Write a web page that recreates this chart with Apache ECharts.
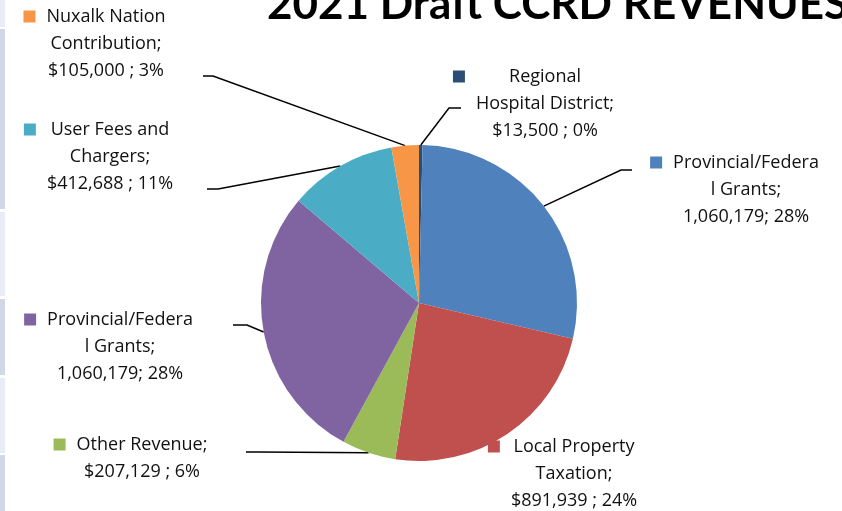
<!DOCTYPE html>
<html>
<head>
<meta charset="utf-8">
<script src="https://cdn.jsdelivr.net/npm/echarts@6/dist/echarts.min.js"></script>
<style>
  html, body { margin: 0; padding: 0; background: #ffffff; }
  #chart { width: 842px; height: 511px; }
</style>
</head>
<body>
<div id="chart"></div>
<script>
// Revenue sources, in clockwise order from 12 o'clock.
const categories = [
  'Regional\nHospital District',
  'Provincial/Federa\nl Grants',
  'Local Property\nTaxation',
  'Other Revenue',
  'Provincial/Federa\nl Grants',
  'User Fees and\nChargers',
  'Nuxalk Nation\nContribution'
];
const values = [13500, 1060179, 891939, 207129, 1060179, 412688, 105000];
const valuePrefix = ['$', '', '$', '$', '', '$', '$'];
const valueSeparator = [' ; ', '; ', ' ; ', ' ; ', '; ', ' ; ', ' ; '];
const colors = ['#2c4d75', '#4f81bd', '#c0504d', '#9bbb59', '#8064a2', '#4bacc6', '#f79646'];
const titleText = '2021 Draft CCRD REVENUES';

// Where each data label sits (text centre x, top y) and the bend/end of its leader line.
const labelPlacement = [
  { x: 545, y: 63,  line: [[449, 108], [461, 108]] },
  { x: 746, y: 149, line: [[621, 170], [632, 170]] },
  { x: 574, y: 433, line: null },
  { x: 142, y: 431, line: [[258, 452], [246, 452]] },
  { x: 120, y: 306, line: [[247, 325], [233, 325]] },
  { x: 110, y: 116, line: [[218, 189], [207, 189]] },
  { x: 106, y: 3,   line: [[213, 76], [203, 76]] }
];

const LABEL_FONT = 'Open Sans';
const LABEL_SIZE = 18;
const total = values.reduce((a, b) => a + b, 0);

const measureCtx = document.createElement('canvas').getContext('2d');
measureCtx.font = LABEL_SIZE + 'px "' + LABEL_FONT + '"';
function textWidth(s) { return measureCtx.measureText(s).width; }

function labelLines(i, percent) {
  const lines = categories[i].split('\n');
  lines[lines.length - 1] += ';';
  lines.push(valuePrefix[i] + values[i].toLocaleString('en-US') + valueSeparator[i] + percent + '%');
  return lines;
}

const data = values.map((v, i) => {
  const lines = labelLines(i, Math.round(v / total * 100));
  const widest = Math.max.apply(null, lines.map(textWidth));
  return {
    name: categories[i],
    value: v,
    itemStyle: { color: colors[i] },
    label: {
      width: widest + 46,
      rich: {
        sq: { width: 12, height: 12, align: 'left', backgroundColor: colors[i] },
        sqR: { width: 12, height: 12, align: 'right' },
        t: { align: 'center', fontFamily: LABEL_FONT, fontSize: LABEL_SIZE, lineHeight: 27, color: '#111' }
      }
    },
    labelLine: { show: !!labelPlacement[i].line }
  };
});

const chart = echarts.init(document.getElementById('chart'), null, { renderer: 'canvas' });

// Thin banded strip along the left edge of the slide.
const stripBands = [[0, 27, '#e8edf5'], [29, 209, '#d0d8e8'], [212, 296, '#e8edf5'],
                    [299, 375, '#d0d8e8'], [378, 453, '#e8edf5'], [455, 511, '#d0d8e8']];

chart.setOption({
  backgroundColor: '#ffffff',
  animation: false,
  title: {
    text: titleText,
    left: 262,
    top: -22,
    textStyle: { fontFamily: 'Lato', fontWeight: 'bold', fontSize: 44, color: '#000' }
  },
  graphic: stripBands.map(b => ({
    type: 'rect',
    shape: { x: 0, y: b[0], width: 5, height: b[1] - b[0] },
    style: { fill: b[2] },
    silent: true
  })),
  series: [{
    type: 'pie',
    center: [419, 303],
    radius: 158,
    startAngle: 90,
    clockwise: true,
    avoidLabelOverlap: false,
    percentPrecision: 0,
    itemStyle: { borderWidth: 0 },
    label: {
      show: true,
      position: 'outside',
      overflow: 'none',
      fontFamily: LABEL_FONT,
      fontSize: LABEL_SIZE,
      lineHeight: 27,
      color: '#111',
      formatter: p => {
        const lines = labelLines(p.dataIndex, p.percent);
        return lines.map((s, k) => (k === 0 ? '{sq|}{t|' + s + '}{sqR|}' : '{t|' + s + '}')).join('\n');
      }
    },
    labelLine: {
      show: true,
      lineStyle: { color: '#000', width: 1.5 }
    },
    labelLayout: params => {
      const place = labelPlacement[params.dataIndex];
      const out = { x: place.x, y: place.y, align: 'center', verticalAlign: 'top' };
      if (place.line && params.labelLinePoints) {
        out.labelLinePoints = [params.labelLinePoints[0], place.line[0], place.line[1]];
      }
      return out;
    },
    data: data
  }]
});
</script>
</body>
</html>
